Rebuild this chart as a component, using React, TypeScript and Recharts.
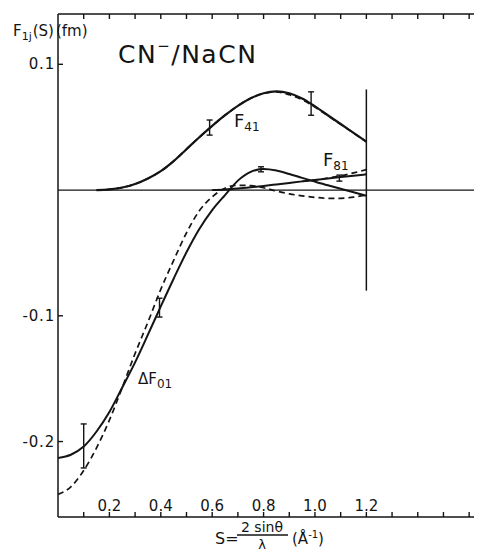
import {
  ComposedChart,
  Customized,
  ErrorBar,
  Line,
  ReferenceLine,
  Scatter,
  XAxis,
  YAxis,
} from 'recharts';

// s = 2 sin(theta) / lambda  (1/Angstrom)
const f41S = [0.15, 0.2, 0.25, 0.3, 0.35, 0.4, 0.45, 0.5, 0.55, 0.6, 0.65, 0.7, 0.75, 0.8, 0.85, 0.9, 0.95, 1.0, 1.05, 1.1, 1.15, 1.2];
const f41Solid = [0, 0.0006, 0.002, 0.0048, 0.0092, 0.015, 0.023, 0.0325, 0.042, 0.051, 0.0595, 0.067, 0.073, 0.077, 0.0785, 0.077, 0.0728, 0.0665, 0.0595, 0.0525, 0.0455, 0.0385];
const f41Dashed = [0, 0.0006, 0.002, 0.0048, 0.0092, 0.015, 0.023, 0.0325, 0.042, 0.051, 0.0595, 0.067, 0.073, 0.0768, 0.078, 0.0758, 0.0718, 0.066, 0.0592, 0.0523, 0.0454, 0.0385];

const df01S = [0, 0.05, 0.1, 0.15, 0.2, 0.25, 0.3, 0.35, 0.4, 0.45, 0.5, 0.55, 0.6, 0.65, 0.7, 0.75, 0.8, 0.85, 0.9, 0.95, 1.0, 1.05, 1.1, 1.15, 1.2];
const df01Solid = [-0.213, -0.2105, -0.204, -0.192, -0.1765, -0.157, -0.137, -0.115, -0.0925, -0.0705, -0.0495, -0.031, -0.016, -0.004, 0.0075, 0.0145, 0.0167, 0.0155, 0.0128, 0.0097, 0.0067, 0.0038, 0.0011, -0.0018, -0.0045];
const df01Dashed = [-0.242, -0.236, -0.223, -0.205, -0.183, -0.157, -0.13, -0.105, -0.079, -0.056, -0.034, -0.0165, -0.0055, 0.0015, 0.0038, 0.0035, 0.0018, -0.0008, -0.003, -0.0046, -0.0058, -0.0066, -0.0066, -0.0056, -0.004];

const f81S = [0.6, 0.65, 0.7, 0.75, 0.8, 0.85, 0.9, 0.95, 1.0, 1.05, 1.1, 1.15, 1.2];
const f81Solid = [0, 0.0004, 0.0012, 0.0022, 0.0033, 0.0045, 0.0057, 0.0069, 0.008, 0.0092, 0.0103, 0.0114, 0.0125];
const f81DashedS = [0.95, 1.0, 1.05, 1.1, 1.15, 1.2];
const f81Dashed = [0.0069, 0.008, 0.0095, 0.0113, 0.0136, 0.0162];

// measured points with error bars
const errS = [0.1, 0.395, 0.59, 0.985, 0.79, 1.095];
const errV = [-0.2035, -0.0935, 0.0497, 0.0688, 0.0165, 0.0095];
const errHalf = [0.0175, 0.0075, 0.006, 0.0093, 0.002, 0.0024];

const xTicks = [0.1, 0.2, 0.3, 0.4, 0.5, 0.6, 0.7, 0.8, 0.9, 1.0, 1.1, 1.2, 1.3, 1.4, 1.5, 1.6];
const xLabels: Record<string, string> = { '0.2': '0.2', '0.4': '0.4', '0.6': '0.6', '0.8': '0.8', '1': '1.0', '1.2': '1.2' };
const yTicks = [0.1, -0.1, -0.2];
const cutLine = [
  { x: 1.2, y: -0.08 },
  { x: 1.2, y: 0.08 },
];

const INK = '#141414';
const FONT = '"DejaVu Sans", sans-serif';

const pts = (s: number[], v: number[]) => s.map((x, i) => ({ s: x, v: v[i] }));
const errData = errS.map((s, i) => ({ s, v: errV[i], e: errHalf[i] }));

const YTick = ({ x, y, payload }: any) => (
  <g>
    <line x1={x} x2={x + 5} y1={y} y2={y} stroke={INK} strokeWidth={1.4} />
    <text x={x - 3} y={y} dy={5} textAnchor="end" fontSize={15} letterSpacing={0.8} fill={INK} fontFamily={FONT}>
      {String(payload.value)}
    </text>
  </g>
);

const Annotations = () => (
  <g fill={INK} fontFamily={FONT}>
    <text x={5} y={28} fontSize={15}>
      F<tspan fontSize={11} dy={4}>1j</tspan>
      <tspan dy={-4} dx={1}>(S)</tspan>
      <tspan dx={2}>(fm)</tspan>
    </text>
    <text x={110} y={55} fontSize={25} letterSpacing={1.5}>
      CN<tspan fontSize={15} dy={-12}>−</tspan>
      <tspan dy={12}>/NaCN</tspan>
    </text>
    <text x={226} y={119} fontSize={18}>
      F<tspan fontSize={12} dy={4}>41</tspan>
    </text>
    <text x={315} y={158} fontSize={18}>
      F<tspan fontSize={12} dy={4}>81</tspan>
    </text>
    <text x={130} y={376} fontSize={15}>
      ΔF<tspan fontSize={12} dy={4}>01</tspan>
    </text>
    <text x={207} y={536} fontSize={16}>S=</text>
    <text x={254} y={524} fontSize={14} textAnchor="middle">2 sinθ</text>
    <line x1={229} x2={280} y1={527} y2={527} stroke={INK} strokeWidth={1.4} />
    <text x={254} y={541} fontSize={13} textAnchor="middle">λ</text>
    <text x={284} y={536} fontSize={15}>
      (Å<tspan fontSize={10} dy={-6}>-1</tspan>
      <tspan dy={6}>)</tspan>
    </text>
  </g>
);

export default function App() {
  return (
    <ComposedChart width={474} height={543} margin={{ top: 6, right: 0, bottom: 34, left: 0 }}>
      <XAxis
        type="number"
        dataKey="s"
        domain={[0, 1.65]}
        ticks={xTicks}
        interval={0}
        allowDataOverflow
        mirror
        tickSize={5}
        tickMargin={1}
        tickFormatter={(v: number) => xLabels[String(v)] ?? ''}
        tick={{ fontSize: 15, fill: INK, fontFamily: FONT }}
        axisLine={{ stroke: INK, strokeWidth: 1.5 }}
        tickLine={{ stroke: INK, strokeWidth: 1.4 }}
      />
      <XAxis
        xAxisId="top"
        orientation="top"
        type="number"
        dataKey="s"
        domain={[0, 1.65]}
        ticks={xTicks}
        interval={0}
        allowDataOverflow
        mirror
        tickSize={5}
        tickFormatter={() => ''}
        axisLine={{ stroke: INK, strokeWidth: 1.5 }}
        tickLine={{ stroke: INK, strokeWidth: 1.4 }}
      />
      <YAxis
        type="number"
        domain={[-0.26, 0.14]}
        ticks={yTicks}
        interval={0}
        allowDataOverflow
        width={50}
        tickSize={0}
        tickMargin={0}
        tickLine={false}
        tick={<YTick />}
        axisLine={{ stroke: INK, strokeWidth: 1.5 }}
      />
      <ReferenceLine y={0} stroke={INK} strokeWidth={1.3} />
      <ReferenceLine segment={cutLine} stroke={INK} strokeWidth={1.5} />

      <Line data={pts(f41S, f41Dashed)} dataKey="v" type="monotone" dot={false} stroke={INK} strokeWidth={1.8} strokeDasharray="6 4" isAnimationActive={false} />
      <Line data={pts(f41S, f41Solid)} dataKey="v" type="monotone" dot={false} stroke={INK} strokeWidth={2.2} isAnimationActive={false} />
      <Line data={pts(df01S, df01Dashed)} dataKey="v" type="monotone" dot={false} stroke={INK} strokeWidth={1.7} strokeDasharray="6 4" isAnimationActive={false} />
      <Line data={pts(df01S, df01Solid)} dataKey="v" type="monotone" dot={false} stroke={INK} strokeWidth={2} isAnimationActive={false} />
      <Line data={pts(f81DashedS, f81Dashed)} dataKey="v" type="monotone" dot={false} stroke={INK} strokeWidth={1.7} strokeDasharray="6 4" isAnimationActive={false} />
      <Line data={pts(f81S, f81Solid)} dataKey="v" type="monotone" dot={false} stroke={INK} strokeWidth={2} isAnimationActive={false} />

      <Scatter data={errData} dataKey="v" shape={() => <g />} isAnimationActive={false}>
        <ErrorBar dataKey="e" direction="y" width={3} stroke={INK} strokeWidth={1.4} />
      </Scatter>

      <Customized component={Annotations} />
    </ComposedChart>
  );
}
